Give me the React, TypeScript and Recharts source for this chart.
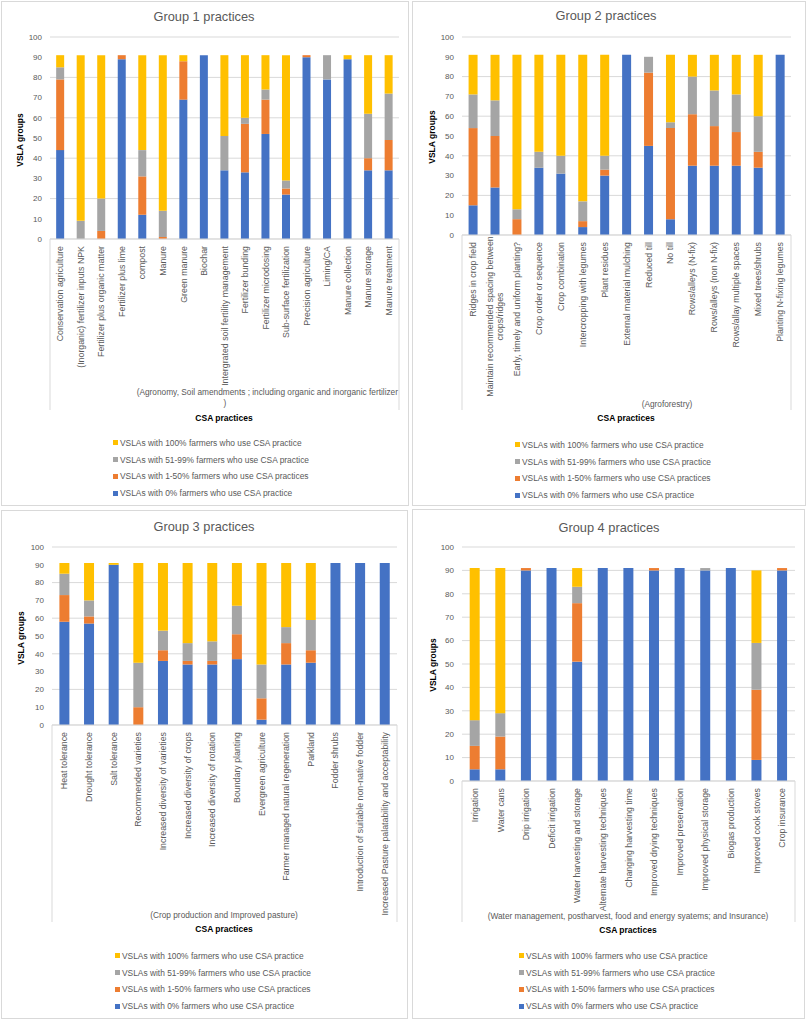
import React from 'react'
import { Bar, BarChart, CartesianGrid, Legend, XAxis, YAxis } from 'recharts'

// Group 1: Agronomy, soil amendments
const group1Practices = [
  'Conservation agriculture',
  '(Inorganic) fertilizer inputs NPK',
  'Fertilizer plus organic matter',
  'Fertilizer plus lime',
  'compost',
  'Manure',
  'Green manure',
  'Biochar',
  'Intergrated soil fertility management',
  'Fertilizer bunding',
  'Fertilizer microdosing',
  'Sub-surface fertilization',
  'Precision agriculture',
  'Liming/CA',
  'Manure collection',
  'Manure storage',
  'Manure treatment',
]
const group1None = [44, 0, 0, 89, 12, 0, 69, 91, 34, 33, 52, 22, 90, 79, 89, 34, 34]
const group1Low = [35, 0, 4, 2, 19, 1, 19, 0, 0, 24, 17, 3, 1, 0, 0, 6, 15]
const group1Mid = [6, 9, 16, 0, 13, 13, 0, 0, 17, 3, 5, 4, 0, 12, 0, 22, 23]
const group1All = [6, 82, 71, 0, 47, 77, 3, 0, 40, 31, 17, 62, 0, 0, 2, 29, 19]

// Group 2: Agroforestry
const group2Practices = [
  'Ridges in crop field',
  'Maintain recommended spacing between crops/ridges',
  'Early, timely and uniform planting?',
  'Crop order or sequence',
  'Crop combination',
  'Intercropping with legumes',
  'Plant residues',
  'External material mulching',
  'Reduced till',
  'No till',
  'Rows/alleys (N-fix)',
  'Rows/alleys (non N-fix)',
  'Rows/allay multiple spaces',
  'Mixed trees/shrubs',
  'Planting N-fixing legumes',
]
const group2None = [15, 24, 0, 34, 31, 4, 30, 91, 45, 8, 35, 35, 35, 34, 91]
const group2Low = [39, 26, 8, 0, 0, 3, 3, 0, 37, 46, 26, 20, 17, 8, 0]
const group2Mid = [17, 18, 5, 8, 9, 10, 7, 0, 8, 3, 19, 18, 19, 18, 0]
const group2All = [20, 23, 78, 49, 51, 74, 51, 0, 0, 34, 11, 18, 20, 31, 0]

// Group 3: Crop production and improved pasture
const group3Practices = [
  'Heat tolerance',
  'Drought tolerance',
  'Salt tolerance',
  'Recommended varieties',
  'Increased diversity of varieties',
  'Increased diversity of crops',
  'Increased diversity of rotation',
  'Boundary planting',
  'Evergreen agriculture',
  'Farmer managed natural regeneration',
  'Parkland',
  'Fodder shrubs',
  'Introduction of suitable non-native fodder',
  'Increased Pasture palatability and acceptability',
]
const group3None = [58, 57, 90, 0, 36, 34, 34, 37, 3, 34, 35, 91, 91, 91]
const group3Low = [15, 4, 0, 10, 6, 2, 2, 14, 12, 12, 7, 0, 0, 0]
const group3Mid = [12, 9, 0, 25, 11, 10, 11, 16, 19, 9, 17, 0, 0, 0]
const group3All = [6, 21, 1, 56, 38, 45, 44, 24, 57, 36, 32, 0, 0, 0]

// Group 4: Water, postharvest, energy and insurance
const group4Practices = [
  'Irrigation',
  'Water cans',
  'Drip irrigation',
  'Deficit irrigation',
  'Water harvesting and storage',
  'Alternate harvesting techniques',
  'Changing harvesting time',
  'Improved drying techniques',
  'Improved preservation',
  'Improved physical storage',
  'Biogas production',
  'Improved cook stoves',
  'Crop insurance',
]
const group4None = [5, 5, 90, 91, 51, 91, 91, 90, 91, 90, 91, 9, 90]
const group4Low = [10, 14, 1, 0, 25, 0, 0, 1, 0, 0, 0, 30, 1]
const group4Mid = [11, 10, 0, 0, 7, 0, 0, 0, 0, 1, 0, 20, 0]
const group4All = [65, 62, 0, 0, 8, 0, 0, 0, 0, 0, 0, 31, 0]

const yTicks = [0, 10, 20, 30, 40, 50, 60, 70, 80, 90, 100]

const seriesKeys = ['none', 'low', 'mid', 'all']
const seriesNames: Record<string, string> = {
  none: 'VSLAs with 0% farmers who use CSA practice',
  low: 'VSLAs with 1-50% farmers who use CSA practices',
  mid: 'VSLAs with 51-99% farmers who use CSA practice',
  all: 'VSLAs with 100% farmers who use CSA practice',
}
const seriesColors: Record<string, string> = {
  none: '#4472C4',
  low: '#ED7D31',
  mid: '#A5A5A5',
  all: '#FFC000',
}
const legendOrder = ['all', 'mid', 'low', 'none']

const FONT = '"Liberation Sans", Arial, sans-serif'
const GRID = '#d9d9d9'
const TEXT = '#595959'
const LABEL_SIZE = 8.8

function buildRows(names: string[], none: number[], low: number[], mid: number[], all: number[]) {
  return names.map((name, i) => ({ name, none: none[i], low: low[i], mid: mid[i], all: all[i] }))
}

const panels = [
  {
    title: 'Group 1 practices',
    rows: buildRows(group1Practices, group1None, group1Low, group1Mid, group1All),
    box: { x: 1, y: 1, w: 408, h: 505 },
    plot: { l: 50, r: 399, t: 37, b: 239 },
    titlePos: { x: 204, y: 17 },
    yLabelPos: { x: 20, y: 140 },
    groupLines: [
      { text: '(Agronomy, Soil amendments ;  including organic and inorganic fertilizer', x: 398, y: 392, anchor: 'end' },
      { text: ')', x: 225, y: 403, anchor: 'middle' },
    ],
    bracketBottom: 410,
    csaPos: { x: 224, y: 418 },
    legendPos: { x: 113, y: 443 },
    wrapAt: 60,
  },
  {
    title: 'Group 2 practices',
    rows: buildRows(group2Practices, group2None, group2Low, group2Mid, group2All),
    box: { x: 412, y: 1, w: 394, h: 505 },
    plot: { l: 462, r: 791, t: 37, b: 235 },
    titlePos: { x: 606, y: 16 },
    yLabelPos: { x: 432, y: 137 },
    groupLines: [{ text: '(Agroforestry)', x: 667, y: 404, anchor: 'middle' }],
    bracketBottom: 410,
    csaPos: { x: 626, y: 418 },
    legendPos: { x: 515, y: 445 },
    wrapAt: 38,
  },
  {
    title: 'Group 3 practices',
    rows: buildRows(group3Practices, group3None, group3Low, group3Mid, group3All),
    box: { x: 1, y: 510, w: 407, h: 509 },
    plot: { l: 52, r: 397, t: 547, b: 725 },
    titlePos: { x: 204, y: 527 },
    yLabelPos: { x: 21, y: 638 },
    groupLines: [{ text: '(Crop production and Improved pasture)', x: 224, y: 915, anchor: 'middle' }],
    bracketBottom: 922,
    csaPos: { x: 224, y: 929 },
    legendPos: { x: 115, y: 956 },
    wrapAt: 60,
  },
  {
    title: 'Group 4 practices',
    rows: buildRows(group4Practices, group4None, group4Low, group4Mid, group4All),
    box: { x: 412, y: 509, w: 393, h: 510 },
    plot: { l: 462, r: 795, t: 547, b: 781 },
    titlePos: { x: 609, y: 528 },
    yLabelPos: { x: 433, y: 665 },
    groupLines: [
      { text: '(Water management, postharvest, food and energy syatems;  and Insurance)', x: 628, y: 916, anchor: 'middle' },
    ],
    bracketBottom: 922,
    csaPos: { x: 628, y: 930 },
    legendPos: { x: 519, y: 956 },
    wrapAt: 60,
  },
]

function wrapLabel(text: string, max: number) {
  if (text.length <= max) return [text]
  const cut = text.lastIndexOf(' ', max)
  return [text.slice(0, cut), text.slice(cut + 1)]
}

function CategoryTick({ x, y, payload, wrapAt }: any) {
  const lines = wrapLabel(String(payload.value), wrapAt)
  const multi = lines.length > 1
  const lead = lines[0].length * LABEL_SIZE * 0.47
  return (
    <g transform={`translate(${x},${y - 1})`}>
      {lines.map((line, i) => (
        <text
          key={i}
          transform="rotate(-90)"
          x={multi ? -lead / 2 : 0}
          y={(i - (lines.length - 1) / 2) * 10.5}
          dy="0.35em"
          textAnchor={multi ? 'middle' : 'end'}
          fontSize={LABEL_SIZE}
          fill={TEXT}
          fontFamily={FONT}
        >
          {line}
        </text>
      ))}
    </g>
  )
}

function LegendBox({ payload }: any) {
  const items = legendOrder
    .map((key) => (payload ?? []).find((p: any) => p.dataKey === key))
    .filter(Boolean)
  return (
    <div style={{ fontFamily: FONT, fontSize: 8.4, color: TEXT }}>
      {items.map((item: any) => (
        <div key={item.dataKey} style={{ display: 'flex', alignItems: 'center', height: 16.7, whiteSpace: 'nowrap' }}>
          <span style={{ width: 5, height: 5, background: item.color, marginRight: 2, display: 'inline-block' }} />
          {item.value}
        </div>
      ))}
    </div>
  )
}

function Panel({ cfg }: any) {
  const { box, plot } = cfg
  const ox = box.x + 1
  const oy = box.y + 1
  const width = box.w - 2
  const height = box.h - 2
  const marginTop = plot.t - oy
  const marginRight = ox + width - plot.r
  const yAxisWidth = plot.l - ox
  const xAxisHeight = oy + height - plot.b

  return (
    <>
      <div
        style={{
          position: 'absolute',
          left: box.x,
          top: box.y,
          width: box.w,
          height: box.h,
          border: `1px solid ${GRID}`,
          boxSizing: 'border-box',
          background: '#fff',
        }}
      >
        <BarChart
          width={width}
          height={height}
          data={cfg.rows}
          margin={{ top: marginTop, right: marginRight, left: 0, bottom: 0 }}
          barCategoryGap="30%"
        >
          <CartesianGrid vertical={false} stroke={GRID} />
          <XAxis
            dataKey="name"
            interval={0}
            height={xAxisHeight}
            axisLine={{ stroke: GRID }}
            tickLine={false}
            tick={<CategoryTick wrapAt={cfg.wrapAt} />}
          />
          <YAxis
            domain={[0, 100]}
            ticks={yTicks}
            width={yAxisWidth}
            axisLine={false}
            tickLine={false}
            tick={{ fill: TEXT, fontSize: 8, fontFamily: FONT }}
          />
          {seriesKeys.map((key) => (
            <Bar
              key={key}
              dataKey={key}
              name={seriesNames[key]}
              stackId="a"
              fill={seriesColors[key]}
              isAnimationActive={false}
            />
          ))}
          <Legend
            layout="vertical"
            align="center"
            verticalAlign="middle"
            content={<LegendBox />}
            wrapperStyle={{ left: cfg.legendPos.x - ox, top: cfg.legendPos.y - 8.35 - oy, width: 'auto' }}
          />
        </BarChart>
      </div>
      <svg
        width={809}
        height={1024}
        style={{ position: 'absolute', left: 0, top: 0, pointerEvents: 'none' }}
        fontFamily={FONT}
      >
        <text x={cfg.titlePos.x} y={cfg.titlePos.y} textAnchor="middle" dy="0.35em" fontSize={12.8} fill={TEXT}>
          {cfg.title}
        </text>
        <text
          transform={`translate(${cfg.yLabelPos.x},${cfg.yLabelPos.y}) rotate(-90)`}
          textAnchor="middle"
          dy="0.35em"
          fontSize={8.5}
          fontWeight="bold"
          fill="#000"
        >
          VSLA groups
        </text>
        <line x1={plot.l} x2={plot.l} y1={plot.b} y2={cfg.bracketBottom} stroke={GRID} />
        <line x1={plot.r} x2={plot.r} y1={plot.b} y2={cfg.bracketBottom} stroke={GRID} />
        {cfg.groupLines.map((g: any, i: number) => (
          <text key={i} x={g.x} y={g.y} textAnchor={g.anchor} dy="0.35em" fontSize={8.3} fill={TEXT}>
            {g.text}
          </text>
        ))}
        <text x={cfg.csaPos.x} y={cfg.csaPos.y} textAnchor="middle" dy="0.35em" fontSize={8.5} fontWeight="bold" fill="#000">
          CSA practices
        </text>
      </svg>
    </>
  )
}

export default function App() {
  return (
    <div style={{ position: 'relative', width: 809, height: 1024, background: '#fff', overflow: 'hidden' }}>
      <style>{'body{margin:0}'}</style>
      {panels.map((cfg) => (
        <Panel key={cfg.title} cfg={cfg} />
      ))}
    </div>
  )
}
